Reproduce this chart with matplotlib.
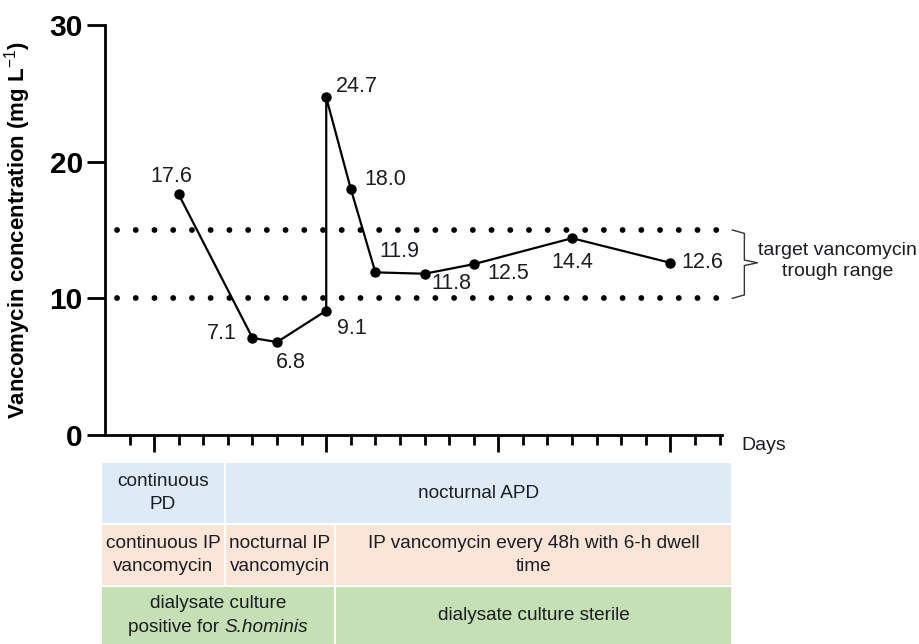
import matplotlib
matplotlib.use("Agg")
import matplotlib.pyplot as plt
from matplotlib.patches import Rectangle
from matplotlib import font_manager
from matplotlib.offsetbox import TextArea, HPacker, VPacker, AnnotationBbox

# ---------------- data ----------------
days = [1, 4, 5, 7, 7, 8, 9, 11, 13, 17, 21]
conc = [17.6, 7.1, 6.8, 9.1, 24.7, 18.0, 11.9, 11.8, 12.5, 14.4, 12.6]
labels = ["17.6", "7.1", "6.8", "9.1", "24.7", "18.0", "11.9", "11.8", "12.5", "14.4", "12.6"]
target_low = 10
target_high = 15
y_ticks = [0, 10, 20, 30]
major_days = [0, 7, 14, 21]

row1 = ["continuous\nPD", "nocturnal APD"]
row2 = ["continuous IP\nvancomycin", "nocturnal IP\nvancomycin",
        "IP vancomycin every 48h with 6-h dwell\ntime"]
row3 = [None, "dialysate culture sterile"]
row3_first_line = "dialysate culture"
row3_second_plain = "positive for"
row3_second_italic = "S.hominis"

# label offsets (points)
offsets = [(-5, 13), (-22, 3), (10, -15), (18.5, -13), (22, 8), (24.5, 6.5),
           (17.5, 15), (19.5, -7), (25, -7), (0, -17.5), (23, 0.5)]

names = {f.name for f in font_manager.fontManager.ttflist}
base = "Liberation Sans" if "Liberation Sans" in names else "DejaVu Sans"
plt.rcParams['font.family'] = [base, 'DejaVu Sans']
plt.rcParams['mathtext.fontset'] = 'custom'
plt.rcParams['mathtext.rm'] = base
plt.rcParams['mathtext.it'] = base + ':italic'
plt.rcParams['mathtext.bf'] = base + ':bold'

W, H = 919, 644
fig = plt.figure(figsize=(W / 100, H / 100), dpi=100)

def fx(px):
    return px / W

def fy(py):
    return 1 - py / H

TXT = "#1c1c24"

# axes: x from pixel 105 (day -2) to 722, y from 25 (30) to 435 (0)
ax = fig.add_axes([fx(105), fy(435), fx(722) - fx(105), fy(25) - fy(435)])
ax.set_xlim(-2, 23.1)
ax.set_ylim(0, 30)
ax.patch.set_alpha(0)

for s in ["top", "right"]:
    ax.spines[s].set_visible(False)
ax.spines["left"].set_linewidth(2.0)
ax.spines["bottom"].set_linewidth(2.0)

ax.set_yticks(y_ticks)
ax.set_yticklabels([str(v) for v in y_ticks], fontsize=21.5, fontweight="bold")
ax.tick_params(axis="y", length=13, width=2.0, pad=3)
ax.set_xticks(major_days)
ax.set_xticks([d for d in range(-1, 24) if d not in major_days], minor=True)
ax.set_xticklabels([])
ax.tick_params(axis="x", which="major", length=12.5, width=2.0, direction="out")
ax.tick_params(axis="x", which="minor", length=7, width=2.0, direction="out")

ax.set_ylabel("Vancomycin concentration (mg L$^{-1}$)", fontsize=16, fontweight="bold")
ax.yaxis.set_label_coords(-0.117, 0.5, transform=ax.transAxes)

# target range dotted lines
for yv in (target_high, target_low):
    ax.plot([-1.5, 23.5], [yv, yv], color="black", lw=4.2,
            linestyle=(0, (0.01, 3.2)), dash_capstyle="round", clip_on=False)

ax.plot(days, conc, color="black", lw=1.6, marker="o", markersize=6.5, zorder=5, clip_on=False)

for d, c, lab, off in zip(days, conc, labels, offsets):
    ax.annotate(lab, (d, c), xytext=off, textcoords="offset points",
                ha="center", va="center", fontsize=15.5, color=TXT)

# bracket
bx0, bx1, bx2 = 23.52, 24.01, 24.54
ax.plot([bx0, bx1, bx1, bx2, bx1, bx1, bx0],
        [target_high, target_high - 0.25, 12.8, 12.6, 12.4, target_low + 0.25, target_low],
        color="#333333", lw=1.0, clip_on=False)
ax.text(27.8, 12.7, "target vancomycin\ntrough range", ha="center", va="center",
        fontsize=14, linespacing=1.3, color=TXT)

fig.text(fx(741), fy(446), "Days", ha="left", va="center", fontsize=14, color=TXT)

# ---------------- table ----------------
blue, peach, green = "#DEEBF7", "#FBE5D6", "#C5E0B4"
gap = 2
tfs = 13.7
rows = [
    (463, 523, blue, [102, 225, 731], row1),
    (525, 585, peach, [102, 225, 335, 731], row2),
    (587, 650, green, [102, 335, 731], row3),
]
for top, bot, col, edges, texts in rows:
    for i, t in enumerate(texts):
        x0 = edges[i] + (gap / 2 if i > 0 else 0)
        x1 = edges[i + 1] - (gap / 2 if i + 1 < len(edges) - 1 else 0)
        fig.add_artist(Rectangle((fx(x0), fy(bot)), fx(x1) - fx(x0), fy(top) - fy(bot),
                                 transform=fig.transFigure, facecolor=col, edgecolor="none"))
        cy = (top + min(bot, 644)) / 2
        cx = (x0 + x1) / 2
        if t is None:
            props = dict(fontsize=tfs, color=TXT)
            l1 = TextArea(row3_first_line, textprops=props)
            l2 = HPacker(children=[TextArea(row3_second_plain, textprops=props),
                                   TextArea(row3_second_italic, textprops=dict(props, style="italic"))],
                         pad=0, sep=4, align="baseline")
            box = VPacker(children=[l1, l2], pad=0, sep=5, align="center")
            ab = AnnotationBbox(box, (fx(cx), fy(cy)), xycoords="figure fraction",
                                frameon=False, box_alignment=(0.5, 0.5), pad=0)
            fig.add_artist(ab)
        else:
            fig.text(fx(cx), fy(cy), t, ha="center", va="center",
                     fontsize=tfs, linespacing=1.5, color=TXT)

fig.savefig("out.png", dpi=100)
